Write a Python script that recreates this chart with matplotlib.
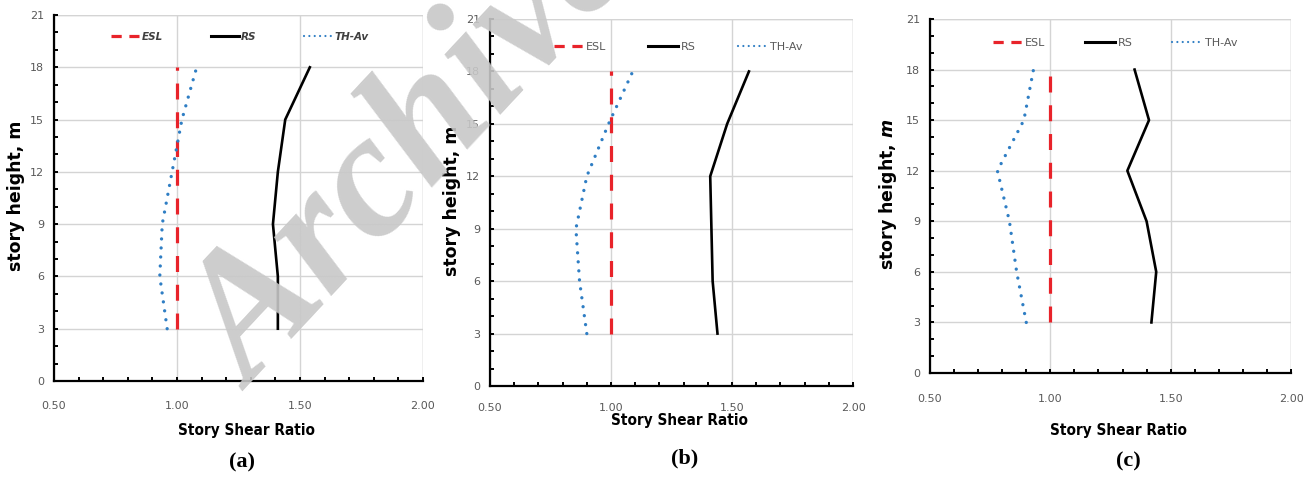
import matplotlib
matplotlib.use("Agg")
import matplotlib.pyplot as plt
from matplotlib.ticker import MultipleLocator, FixedLocator

plt.rcParams["mathtext.fontset"] = "dejavusans"

# ─────────────────────────────────────────
# Data: story shear ratio at each floor level
# ─────────────────────────────────────────
heights = [3, 6, 9, 12, 15, 18]

esl_a = [1.00, 1.00, 1.00, 1.00, 1.00, 1.00]
rs_a  = [1.41, 1.41, 1.39, 1.41, 1.44, 1.54]
th_a  = [0.96, 0.93, 0.94, 0.98, 1.02, 1.08]

esl_b = [1.00, 1.00, 1.00, 1.00, 1.00, 1.00]
rs_b  = [1.44, 1.42, 1.415, 1.41, 1.48, 1.57]
th_b  = [0.90, 0.87, 0.855, 0.90, 0.99, 1.09]

esl_c = [1.00, 1.00, 1.00, 1.00, 1.00, 1.00]
rs_c  = [1.42, 1.44, 1.40, 1.32, 1.41, 1.35]
th_c  = [0.90, 0.86, 0.83, 0.78, 0.89, 0.93]

x_ticks = [0.50, 1.00, 1.50, 2.00]
y_ticks = [0, 3, 6, 9, 12, 15, 18, 21]
panel_tags = ["(a)", "(b)", "(c)"]

W, H = 1310, 484
fig = plt.figure(figsize=(W / 100, H / 100), dpi=100)

# axes boxes in pixels: left, right, top, bottom
boxes = [(54, 423, 15, 381), (490, 853, 19, 386), (930, 1291, 19, 373)]
ylab_x = [16, 452, 888]
xlab_y = [431, 421, 431]
xpad = [14.5, 12.0, 15.0]
tag_xy = [(242, 462), (685, 458), (1128, 461)]
# legend centre (pixels) and column spacing per panel
leg_xy = [(240, 37), (678, 47), (1115, 43)]
leg_cs = [4.6, 3.8, 3.6]

series = [(esl_a, rs_a, th_a), (esl_b, rs_b, th_b), (esl_c, rs_c, th_c)]

tick_font = ["Liberation Sans Narrow", "DejaVu Sans"]
gray_txt = "#595959"
red = "#E8232A"
blue = "#2F7EC4"

for i, (l, r, t, b) in enumerate(boxes):
    ax = fig.add_axes([l / W, (H - b) / H, (r - l) / W, (b - t) / H])
    esl, rs, th = series[i]

    ax.plot(esl, heights, color=red, lw=2.3, ls=(0, (5, 4)), label="ESL")
    ax.plot(rs, heights, color="black", lw=1.9, label="RS")
    ax.plot(th, heights, color=blue, lw=2.4, ls=(0, (0.01, 2.7)),
            dash_capstyle="round", label="TH-Av")

    ax.set_xlim(0.5, 2.0)
    ax.set_ylim(0, 21)
    ax.xaxis.set_major_locator(FixedLocator(x_ticks))
    ax.yaxis.set_major_locator(FixedLocator(y_ticks))
    ax.xaxis.set_minor_locator(MultipleLocator(0.1))
    ax.yaxis.set_minor_locator(MultipleLocator(1))
    ax.set_xticklabels([f"{v:.2f}" for v in x_ticks])

    ax.grid(True, which="major", color="#D4D4D4", lw=1.0)
    ax.set_axisbelow(True)
    for side in ["top", "right"]:
        ax.spines[side].set_visible(False)
    for side in ["left", "bottom"]:
        ax.spines[side].set_linewidth(1.6)
        ax.spines[side].set_color("black")

    ax.tick_params(which="both", direction="in", length=3, width=1.4,
                   colors="black", labelcolor=gray_txt, labelsize=8)
    ax.tick_params(axis="x", which="major", pad=xpad[i])
    ax.tick_params(axis="y", which="major", pad=7)
    for lab in ax.get_xticklabels() + ax.get_yticklabels():
        lab.set_family(tick_font)

    # top and right boundary drawn as grid-coloured lines
    ax.axhline(21, color="#D4D4D4", lw=1.0, zorder=0)
    ax.axvline(2.0, color="#D4D4D4", lw=1.0, zorder=0)

    if i == 0:
        leg_props = dict(family=tick_font, size=7.5, style="italic", weight="bold")
        leg_color = "#404040"
    else:
        leg_props = dict(family=tick_font, size=8)
        leg_color = gray_txt
    lx, ly = leg_xy[i]
    leg = ax.legend(loc="center", ncol=3, frameon=False, prop=leg_props,
                    bbox_to_anchor=((lx - l) / (r - l), (b - ly) / (b - t)),
                    handlelength=2.7, handletextpad=0.2,
                    columnspacing=leg_cs[i])
    for txt in leg.get_texts():
        txt.set_color(leg_color)
    # shorter dash and dot patterns inside the legend keys
    h_esl, h_rs, h_th = leg.get_lines()
    h_esl.set_dashes([3.2, 2.4])
    h_esl.set_linewidth(2.3)
    h_rs.set_linewidth(2.2)
    h_th.set_linewidth(1.6)
    h_th.set_dashes([0.01, 2.4])

    # axis titles placed in figure pixels
    cx = (l + r) / 2
    ylabel = "story height, m" if i < 2 else r"story height, $\mathbfit{m}$"
    fig.text(ylab_x[i] / W, 1 - ((t + b) / 2 - 2) / H, ylabel,
             rotation=90, ha="center", va="center", fontsize=12.5,
             fontweight="bold", family="DejaVu Sans")
    fig.text((cx + 8) / W, 1 - xlab_y[i] / H, "Story Shear Ratio",
             ha="center", va="center", fontsize=11, fontweight="bold",
             family=["DejaVu Sans Condensed", "DejaVu Sans"],
             fontstretch="condensed")
    tx, ty = tag_xy[i]
    fig.text(tx / W, 1 - ty / H, panel_tags[i], ha="center", va="center",
             fontsize=16, fontweight="bold", family="Liberation Serif")

# diagonal archive stamp across the first two panels
fig.text(252 / W, 1 - 392 / H, "Archive", rotation=47, rotation_mode="anchor",
         ha="left", va="baseline", fontsize=128, fontweight="bold",
         style="italic", family="Liberation Serif", color="#C8C8C8",
         alpha=0.9, zorder=10)

fig.savefig("out.png", dpi=100)
